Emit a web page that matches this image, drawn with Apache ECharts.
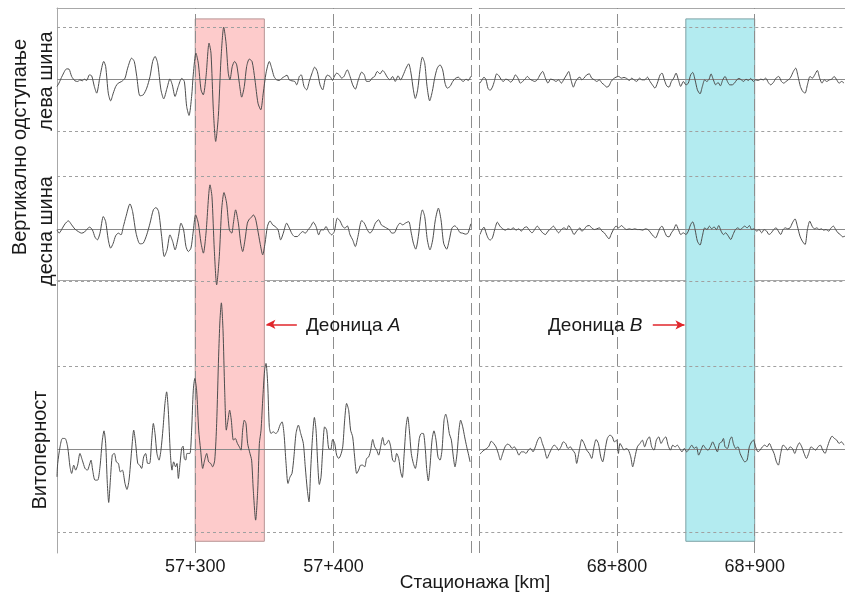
<!DOCTYPE html>
<html><head><meta charset="utf-8">
<script src="https://cdn.jsdelivr.net/npm/echarts@6/dist/echarts.min.js"></script>
<style>html,body{margin:0;padding:0;background:#fff}#c{width:845px;height:597px}</style>
</head><body><div id="c"></div>
<script>
// chainage within km (metres); left panel = km 57, right panel = km 68
const leftKm = 57, rightKm = 68;
const leftRange = [200, 500], rightRange = [700, 965.6];
const leftTickLabels = ['57+300', '57+400'];
const rightTickLabels = ['68+800', '68+900'];
const leftGridLines = [300, 400, 500];
const rightGridLines = [700, 800, 900];
const sectionA = [300, 350];
const sectionB = [850, 900];
const rowNames = ['лева шина', 'десна шина', 'Витоперност'];
const groupName = 'Вертикално одступање';
const xAxisName = 'Стационажа [km]';
// dashed limit lines of each row (same units as the signals)
const rowLimits = [51.85, 52.15, 83.15];

const leftLeva = [[200,-7.3],[201.4,-4],[203.8,3.3],[207,10.3],[208.7,10],[210.6,2.7],[213,-1.7],[215,-2.3],[216.6,-0.7],[218.3,-1.7],[219.7,0],[221.5,-1.3],[223.4,4.3],[225.1,3.3],[227,-7.3],[228.7,-14],[231.1,2.7],[233.8,17.7],[235.2,12.7],[237.1,-14],[238.8,-21.7],[240.7,-14],[242.5,-7.3],[244.3,-4],[246.8,-2.3],[249.2,1],[251.1,11],[254,21],[255.9,17.7],[257.7,2.7],[260,-16.7],[262.4,-15.7],[264.9,-9],[267.3,2.7],[269.2,17.7],[270.9,22.7],[272.8,16],[275.2,-10.7],[277.2,-19.7],[279.6,-9],[281.7,0.3],[283.4,-5.7],[285.4,-17.3],[287.7,-7.3],[290.2,0.7],[292.1,-2.3],[293.8,-27.3],[295.5,-36.3],[297.4,-17.3],[298.6,5],[300.5,26],[302.2,16],[304.2,-10.7],[305.8,-15.7],[307.8,2.7],[310,36],[311.4,26],[313.1,-30.7],[314.8,-62.3],[316.7,-37.3],[318.6,19.3],[320.6,52],[322.3,36],[323.9,6],[325.1,-0.7],[326.8,12.7],[328.5,17.7],[330,14.3],[331.9,-4],[333.6,-18],[335.5,-7.3],[337.2,12.7],[339.1,20],[341.1,17.7],[343.2,-0.7],[345.4,-24],[347.4,-30.7],[349.2,-14],[351.2,6],[353.6,17.7],[355.3,11],[357,2.7],[358.9,-0.7],[360.8,-1.3],[362.8,1],[364.7,2.7],[366.4,4],[368,-0.7],[370,-1.7],[372,-2.3],[373.4,-5.7],[375.3,2.7],[376.7,4.3],[378.7,-7.3],[380.6,-10.7],[382.5,-2.3],[384.5,6],[386.4,12],[388.3,7.7],[390.3,-5.7],[392.2,-10.7],[393.9,-0.7],[395.5,4],[397.5,2.7],[399.4,-1.3],[400.4,2],[402.3,6],[404.2,4.3],[405.9,1],[407.6,2.7],[410,9.3],[412,2.7],[413.9,-5.7],[415.8,-10],[418,-0.7],[420.4,7],[422.3,4.3],[424,-2.3],[425.9,-2.3],[427.9,1],[429.8,2.7],[431.7,7.7],[433.7,5.3],[435.6,8.7],[437.3,6],[438.9,2],[440.9,-0.7],[442.8,2.7],[444.7,-2.3],[446.7,3.3],[448.6,-0.7],[450.5,4.3],[452.5,11],[454.4,15.3],[456.1,6],[457.8,-10.7],[459.2,-19.3],[460.9,-10.7],[462.6,9.3],[464.3,22],[466,16],[467.7,-7.3],[469.6,-21.7],[471.5,-12.3],[473.2,1],[475.1,11],[477.1,14.3],[479,9.3],[480.7,-4],[482.3,-9],[484.3,-7.3],[486.3,-2.3],[488.1,0.7],[490.3,2],[492.3,-0.7],[493.9,-2.3],[495.9,0],[497.5,-1.3],[499.3,2.7]];

const leftDesna = [[200,-1],[201.5,-4.3],[203.9,0.7],[205.8,5],[208.2,8],[210.6,4],[213,-0.3],[215.4,-2.7],[217.8,-4.3],[219.8,-3.3],[221.7,-0.3],[223.6,1.7],[225.6,-1],[227.5,-8.3],[229.2,-11],[231.1,-4.3],[233.5,12.3],[235.2,7.3],[237.1,-11],[238.8,-19.3],[240.7,-14.3],[242.4,-7],[244.4,-4.3],[246.3,-6],[248,2.3],[249.9,12.3],[252.8,25],[254.7,17.3],[257.2,-4.3],[260,-15],[262.4,-14.3],[264.9,-6],[267.3,5.7],[269.7,19],[271.6,21.3],[273.5,17.3],[275.7,-7.7],[277.6,-27.7],[279.6,-21],[281.7,-6],[283.7,-12.7],[285.4,-21],[287.8,-7.7],[289.7,5.7],[291.6,-1],[293.3,-17.7],[295,-22.7],[296.9,-19.3],[298.4,-4.3],[300.3,14],[302.2,5.7],[304.2,-14.3],[305.9,-24.3],[307.8,-4.3],[310.7,44],[312.1,32.3],[313.8,-21],[315.5,-56],[317.4,-27.7],[319.1,19],[320.8,36.3],[322.7,25.7],[324.7,-1],[326.4,-4.3],[327.6,5.7],[329.2,19],[331.2,5.7],[332.9,-14.3],[334.3,-22.7],[336,-11],[337.7,5.7],[339.1,9.7],[340.8,11.7],[342,14],[343.5,10.7],[345.2,-1],[346.9,-14.3],[348.8,-26],[350.5,-14.3],[352.2,2.3],[354.1,8],[356,4],[357.9,2.3],[359.9,-1],[361.8,-11],[363.7,-4.3],[366.1,5.7],[368.1,0.7],[370,-5],[371.9,-7.7],[373.9,-7.7],[375.8,-5],[377.7,-2.7],[379.6,-4.3],[381.6,-1],[383.5,2.3],[385.4,6.7],[387.4,2.3],[389.3,-6],[391,-1],[392.9,-1],[394.6,2.3],[396.5,-2.7],[398.7,-6],[400.6,-2.7],[402.8,10.7],[404.7,8],[406.7,2.3],[408.3,0.7],[410,3],[412,-6],[413.9,-11],[415.8,-17.7],[417.7,-7.7],[420.4,8.3],[422.3,5.7],[424.5,-1],[426.4,-4.3],[428.4,-1],[430.3,5.7],[432.7,9],[434.6,4],[436.5,2.3],[438.5,0.7],[440.4,-1],[442.3,-4.3],[444.3,-3.7],[446.2,2.3],[448.1,5.7],[450.1,4],[452,5.7],[454.4,7.3],[456.3,-4.3],[457.8,-14.3],[459.5,-20.3],[461.4,-7.7],[463.1,12.3],[464.3,19],[466,12.3],[467.9,-11],[469.8,-21],[471.8,-11],[473.7,9],[475.9,20.7],[477.8,9],[479.7,-14.3],[481.9,-20.3],[483.8,-11],[485.7,0.7],[487.7,3],[489.6,0.7],[491.5,-3.7],[493.5,-4.3],[495.4,-5.3],[497.3,-4.3],[499.3,5]];

const leftVito = [[200,-27.7],[200.5,-14.3],[202.2,2.3],[203.9,10.7],[205.8,10.7],[207.7,2.3],[209.4,-17.7],[210.6,-24.3],[212.1,-16],[213.5,-21],[214.9,-16],[216.6,-4.3],[218.3,-11],[220.3,-19.3],[222,-21],[223.4,-16],[224.6,-11],[225.8,-21],[227.5,-31],[229.4,-31],[231.1,-17.7],[232.8,9],[234,18.3],[235.2,5.7],[236.4,-34.3],[237.4,-53.3],[238.6,-31],[240,-6],[241.5,-4.3],[242.9,-12.7],[244.4,-14.3],[245.8,-22.7],[247.3,-21],[249.2,-34.3],[250.6,-40.3],[252.1,-31],[254,-1],[255.5,19],[256.9,5.7],[258.4,-14.3],[259.8,-16],[261.2,-19.3],[262.7,-7.7],[264.1,-4.3],[265.6,-14.3],[267,-14.3],[268.5,9],[269.7,25.7],[270.9,15.7],[272.3,-4.3],[273.8,-11],[275.2,-1],[276.7,20.7],[278.1,45.7],[279.3,57.3],[280.5,39],[282,-4.3],[283.2,-21],[284.4,-12.7],[285.8,-17.7],[286.8,-14.3],[287.8,-29.3],[289,-14.3],[290.2,0.7],[291.2,3],[292.1,-9.3],[293.1,-11],[294,-4.3],[295,-4.3],[296.2,-4.3],[297.4,19],[298.6,59],[299.7,70.7],[301,59],[302.5,19],[303.9,-1],[305.4,-19.3],[306.8,-11],[308.3,-4.3],[309.7,-12.7],[311.2,-14.3],[312.6,-17.7],[314.1,-11],[315.5,25.7],[316.9,92.3],[317.9,129],[318.9,146.3],[320.1,119],[321.3,59],[322.5,19],[323.7,29],[324.9,39],[326.1,29],[327.6,9],[329,10.7],[330.5,5.7],[331.9,2.3],[333.1,-1],[334.3,19],[335.5,29],[336.7,25.7],[337.9,5.7],[339.6,-4.3],[340.8,-11],[342,-41],[343.7,-71],[345.2,-41],[346.4,5.7],[347.6,19],[348.8,49],[350.2,79],[351.2,85.7],[352.4,65.7],[353.6,22.3],[354.8,15.7],[356.5,17.3],[358.2,15.7],[359.6,17.3],[361.3,24],[362.8,27.3],[364.2,15.7],[365.7,-14.3],[367.1,-34.3],[368.6,-27.7],[370,-24.3],[371.4,-7.7],[372.9,15.7],[374.6,24],[376.3,15.7],[378.2,5.7],[379.6,-17.7],[381.1,-41],[382.3,-52.7],[383.5,-21],[384.7,9],[386.2,31.7],[387.4,19],[388.6,-14.3],[389.8,-35.3],[391,-27.7],[392.2,-1],[393.6,22.3],[395.1,19],[396.5,0.7],[398,-0.3],[399.4,9.7],[400.9,5.7],[402.3,-6],[403.8,-9.3],[405.2,-6],[406.7,2.3],[408.1,29],[409.5,45.7],[411,39],[412.4,19],[413.9,12.3],[415.3,-7.7],[416.8,-24.3],[418.2,-21],[419.7,-16],[421.1,-16],[422.6,-17.7],[424,-9.3],[425.5,-7.7],[426.9,-1],[428.4,9.7],[429.8,2.3],[431.3,-1],[432.7,-6],[434.1,2.3],[435.6,11.7],[437,4],[438.5,5.7],[439.9,9],[441.4,2.3],[442.8,-11],[444.3,-12.7],[445.7,-4.3],[447.2,-9.3],[448.6,-22.7],[449.8,-28.3],[451,-7.7],[452.5,22.3],[453.7,32.3],[454.9,19],[456.3,-4.3],[457.8,-14.3],[459.2,-19.3],[460.7,-7.7],[462.1,10.7],[463.6,15.7],[465,15.7],[466.5,-1],[467.4,-19.3],[468.6,-31.7],[469.8,-17.7],[471.3,9],[472.7,18.3],[474.2,9],[475.6,-7.7],[477.1,-11],[478.5,-1],[480,29],[481.2,35],[482.4,29],[483.8,15.7],[485.3,9],[486.7,-7.7],[487.9,-17.7],[489.4,-4.3],[490.8,19],[492,29],[493.5,22.3],[494.9,12.3],[496.4,2.3],[497.8,-6],[498.8,-12.7]];

const rightLeva = [[700.5,-4],[702,-0.7],[703.4,2],[704.9,-0.7],[706.3,-9],[707.8,-11.3],[709.5,-8],[710.9,-2.3],[712.6,5.3],[714.3,3.3],[716,-0.7],[717.5,-2.3],[719.2,0],[720.8,-0.7],[722.8,-3],[724.7,0],[726.2,4.3],[728.1,1],[729.8,-4],[731.5,-2.3],[733.2,0],[734.9,2.7],[736.8,0],[738.5,-1.3],[740.2,-2.3],[742.1,-0.7],[744.1,4.3],[746,7.7],[748,1],[749.9,-4],[751.8,0],[753.8,-0.7],[755.7,-2.3],[757.6,-0.7],[759.6,-4],[761.5,0],[763.4,4.3],[764.9,7.7],[766.6,-0.7],[768.3,-8],[770,-2.3],[771.7,1],[773.1,2],[774.4,-0.7],[776,1],[778,4.3],[779.9,5.3],[781.6,1],[783.6,-0.7],[785.3,-2.3],[787.2,-0.7],[789.1,-4],[790.8,-5.7],[792.5,-8],[794.2,-6.7],[795.7,-2.3],[797.4,0.3],[799.3,2],[801.2,2.7],[803.2,1],[805.1,1.7],[807,0.7],[809,-1.3],[810.7,1],[812.4,-0.7],[814.3,-2.3],[816.3,1],[818.2,-0.7],[820.1,-0.7],[822.1,2],[824,-2.3],[825.7,-5.7],[827.6,-9],[829.3,-4],[831.3,4.3],[832.7,6],[834.4,-0.7],[836.1,-6.7],[837.8,-8],[839.5,-2.3],[841.2,1],[842.9,6],[844.6,-0.7],[846.3,-7.3],[848.2,-2.3],[850.1,-5.7],[851.8,-4],[853.5,4.3],[855,6.7],[856.7,-0.7],[858.4,-10.7],[860.3,-14.7],[862,-7.3],[863.7,-0.7],[865.2,-2.3],[866.9,0],[868.3,5.3],[870,-0.7],[871.7,-5.7],[873.4,-3.3],[875.1,-6.7],[876.8,-0.7],[878.5,2.7],[880.2,-2.3],[881.9,-5.7],[883.6,-5.7],[885.3,-4],[887,-0.7],[888.6,0.7],[890.3,-0.7],[892,-2.3],[893.7,0],[895.4,-1.3],[897.1,0.7],[899.1,-2.3],[900.7,-0.7],[902.7,-1.3],[904.4,0],[906.3,-0.7],[908,1],[909.9,-3.3],[911.6,-5.7],[913.6,-3.3],[915.5,1],[917.5,2.7],[919.4,-2.3],[921.1,-4],[922.8,-2.3],[924.5,-0.7],[926.2,2],[928.1,7.7],[929.8,11],[931.5,2.7],[933.2,-7.3],[934.9,-12.3],[936.6,-14],[938.3,-5.7],[940.2,2.7],[941.9,1],[943.6,4.3],[945.5,8.7],[947.2,1],[948.9,-4],[950.6,-0.7],[952.3,-2.3],[954.3,-0.7],[956,0],[957.7,2.7],[959.6,-0.7],[961.3,-4],[963.2,-2.3],[964.9,-4]];

const rightDesna = [[700.5,-5.7],[702,-0.7],[703.4,1.7],[704.9,-4],[706.3,-9],[707.8,-11.3],[709.5,-9],[711.2,-0.7],[713.1,6.7],[715,2.7],[717,0],[718.9,-1.3],[720.8,0],[722.8,-0.7],[724.7,1],[726.7,-1.3],[728.6,0],[730.5,-2.3],[732.5,1],[734.4,2],[736.3,-1.3],[738.3,-4],[740.2,-0.7],[742.1,2.7],[744.1,-0.7],[746,-4],[748,-5.7],[749.9,-2.3],[751.8,0],[753.8,2.7],[755.7,-0.7],[757.6,-4],[759.6,-0.7],[761.5,1],[763.4,-0.7],[764.9,3.3],[766.9,-0.7],[768.8,-5.7],[770.7,-2.3],[773.1,1],[774.4,-2.3],[776,-0.7],[778,2.7],[779.9,3.3],[781.6,1],[783.6,-0.7],[785.3,0],[787.2,1],[789.1,-2.3],[790.8,-4],[792.5,-7.3],[794.2,-10],[795.7,-5.7],[797.4,-0.7],[799.3,2.7],[801.2,1],[803.2,3.3],[805.1,1],[807,-0.7],[809,0],[810.9,-0.7],[812.9,0],[814.8,-0.7],[816.7,-0.7],[818.7,-1.3],[820.6,0],[822.5,-0.7],[824.5,-4],[826.4,-7.3],[828.1,-9],[829.8,-4],[831.3,1],[832.7,2.7],[834.4,-2.3],[836.1,-7.3],[837.8,-8],[839.5,-4],[841.2,-0.7],[842.9,4.3],[844.6,-0.7],[846.3,-5.7],[848.2,-4],[850.1,-5.7],[851.8,-2.3],[853.5,4.3],[855,7],[856.7,-0.7],[858.4,-12.3],[860.3,-16.3],[862,-7.3],[863.7,1],[865.4,-0.7],[867.1,2.7],[868.8,0],[870.5,2],[872.2,-0.7],[873.9,3.3],[875.6,-2.3],[877.3,-5.7],[878.9,-4],[880.9,-7.3],[882.6,-10.7],[884.3,-5.7],[886,-0.7],[887.7,1],[889.4,-0.7],[891.1,1],[892.8,2.7],[894.5,1],[896.2,3.3],[897.8,-0.7],[899.5,0],[901.5,-2.3],[903.2,-0.7],[905.1,-4],[906.8,-0.7],[908.7,-2.3],[910.4,-5.7],[912.1,-4],[913.8,-0.7],[915.5,1],[917.2,-2.3],[918.9,-5.7],[920.6,-0.7],[922.3,1],[924,0],[925.7,1],[927.4,6],[929.3,10],[931,2.7],[932.9,-7.3],[934.6,-12.3],[936.6,-15.7],[938.3,-0.7],[940,7.7],[941.7,2.7],[943.4,0],[945.1,1],[946.8,-0.7],[948.5,0],[950.1,-1.3],[951.8,-0.7],[953.8,-2.3],[955.5,1],[957.2,2.7],[958.8,-0.7],[960.5,-4],[962.2,-5.7],[963.9,-8],[965.6,-7.3]];

const rightVito = [[700.5,-5],[702,-2.7],[703.4,-1],[705.4,0.7],[707,3],[708.7,8],[710.4,5.7],[712.1,2.3],[713.8,-4.3],[715.3,-11],[717,-4.3],[718.7,2.3],[720.4,5],[722.1,4],[723.8,0.7],[725.4,2.3],[727.1,-1],[728.8,-6],[730.5,-2.7],[732.2,-2.7],[733.9,-4.3],[735.6,-1],[737.3,0.7],[739,-2.7],[740.7,2.3],[742.4,9],[744.1,12.3],[745.8,5.7],[747.5,-1],[749.2,-9.3],[750.9,-4.3],[752.6,0.7],[754.3,4],[756,2.3],[757.6,-1],[759.3,2.3],[761,7.3],[762.7,5.7],[764.4,0.7],[766.1,2.3],[767.8,-1],[769.5,-4.3],[770.7,-14.3],[772.2,-4.3],[773.1,2.3],[774.4,9.7],[776.1,5.7],[778,-1],[779.9,-4.3],[781.6,-9.3],[783.3,2.3],[784.8,9.7],[786.5,5.7],[788.2,-7.7],[789.6,-12.7],[791.3,-1],[793,10.7],[794.9,14],[796.6,12.3],[798.1,7.3],[799.8,9],[801,-4.3],[802.2,5.7],[803.7,2.3],[805.1,-1],[806.6,0.7],[808.3,-1],[810,-7.7],[811.4,-17.7],[813.1,-7.7],[814.8,2.3],[816.7,5.7],[818.4,9],[820.1,2.3],[821.8,9],[823.5,12.3],[825.2,2.3],[826.9,-1],[828.6,9],[830.3,12.3],[832,5.7],[833.7,9.7],[835.4,12.3],[837.1,4],[838.8,-1],[840.5,4],[842.2,2.3],[843.8,4],[845.5,0.7],[847.2,-2.7],[848.9,0.7],[850.6,-2.7],[852.6,0.7],[854.3,4],[856,0.7],[857.7,2.3],[859.3,-6],[861,-1],[862.7,4],[864.4,0.7],[866.1,-1],[867.8,2.3],[869.5,7.3],[871.2,2.3],[872.9,-2.7],[874.4,5.7],[876.1,7.3],[877.3,10.7],[878.5,2.3],[880.2,0.7],[882.1,9.7],[883.3,12.3],[884.5,5.7],[886.2,0.7],[887.9,2.3],[889.4,-4.3],[891.1,-9.3],[892.8,-12.7],[894.5,-11],[896.1,2.3],[897.8,7.3],[899.1,9],[900.7,2.3],[902.4,-2.7],[903.9,-1],[905.6,2.3],[907.3,4],[909,2.3],[910.7,5.7],[912.4,0.7],[914.1,-4.3],[915.8,-12.7],[917.2,-16],[918.9,-4.3],[920.6,4],[922.3,2.3],[924,-1],[925.7,2.3],[927.4,0.7],[929.1,-4.3],[930.8,2.3],[932.5,6.3],[934.2,2.3],[935.9,-4.3],[937.6,-9.3],[939.2,-4.3],[940.9,2.3],[942.6,0.7],[944.3,-1],[946,2.3],[947.7,4],[949.4,-1],[951.1,-4.3],[952.8,2.3],[954.5,9],[956.2,13],[957.9,10.7],[959.6,9],[961.3,5.7],[963,7.3],[964.9,4]];

const FONT = '"Liberation Sans", Arial, sans-serif';
const TXT = '#1a1a1a';
const chart = echarts.init(document.getElementById('c'), null, {renderer: 'canvas'});

const frameTop = 8, frameHeight = 545;
const panels = [{left: 57, width: 414.7}, {left: 479.3, width: 365.7}];
const rows = [{top: 27.3, height: 103.7}, {top: 176.7, height: 104.3}, {top: 366, height: 166.3}];

function fmt(km, labels) {
  return function (v) {
    const s = km + '+' + String(Math.round(v)).padStart(3, '0');
    return labels.indexOf(s) >= 0 ? s : '';
  };
}

const grid = [], xAxis = [], yAxis = [], series = [];
const ranges = [leftRange, rightRange];
const kms = [leftKm, rightKm];
const labelSets = [leftTickLabels, rightTickLabels];
const gridLineSets = [leftGridLines, rightGridLines];

// frame grids (0,1)
panels.forEach((p, i) => {
  grid.push({left: p.left, width: p.width, top: frameTop, height: frameHeight, containLabel: false, outerBoundsMode: 'none'});
  xAxis.push({
    type: 'value', gridIndex: i, min: ranges[i][0], max: ranges[i][1], interval: 100, position: 'bottom',
    axisLine: {show: true, lineStyle: {color: '#a8a8a8', width: 1}},
    axisTick: {show: false},
    axisLabel: {formatter: fmt(kms[i], labelSets[i]), color: TXT, fontSize: 18, fontFamily: FONT, margin: 5, showMinLabel: true, showMaxLabel: true},
    splitLine: {show: false}
  });
  xAxis.push({
    type: 'value', gridIndex: i, min: ranges[i][0], max: ranges[i][1], position: 'top',
    axisLine: {show: true, lineStyle: {color: '#a8a8a8', width: 1}},
    axisTick: {show: false}, axisLabel: {show: false}, splitLine: {show: false}
  });
  yAxis.push({
    type: 'value', gridIndex: i, min: -1, max: 1,
    axisLine: {show: i === 0, lineStyle: {color: '#a8a8a8', width: 1}},
    axisTick: {show: false}, axisLabel: {show: false}, splitLine: {show: false}
  });
  // vertical dashed grid lines every 100 m
  series.push({
    type: 'line', xAxisIndex: i * 2, yAxisIndex: i, data: [], z: 0, silent: true, animation: false,
    markLine: {silent: true, animation: false, symbol: 'none', label: {show: false},
      lineStyle: {color: '#8e8e8e', width: 1, type: [12, 5]},
      data: gridLineSets[i].map(v => ({xAxis: v}))}
  });
});

// row grids
const rowData = [[leftLeva, leftDesna, leftVito], [rightLeva, rightDesna, rightVito]];
panels.forEach((p, i) => {
  rows.forEach((r, j) => {
    const gi = grid.length;
    grid.push({left: p.left, width: p.width, top: r.top, height: r.height, containLabel: false, outerBoundsMode: 'none'});
    xAxis.push({type: 'value', gridIndex: gi, min: ranges[i][0], max: ranges[i][1], show: false});
    yAxis.push({type: 'value', gridIndex: gi, min: -rowLimits[j], max: rowLimits[j], show: false});
    series.push({
      type: 'line', xAxisIndex: xAxis.length - 1, yAxisIndex: yAxis.length - 1,
      data: rowData[i][j], showSymbol: false, symbol: 'none', clip: false, smooth: 0.25,
      lineStyle: {color: '#4d4d4d', width: 1}, z: 5, silent: true, animation: false,
      markLine: {
        silent: true, symbol: 'none', animation: false, label: {show: false},
        data: [
          {yAxis: 0, lineStyle: {color: '#8a8a8a', type: 'solid', width: 1}},
          {yAxis: rowLimits[j], lineStyle: {color: '#a0a0a0', type: [3, 3], width: 1}},
          {yAxis: -rowLimits[j], lineStyle: {color: '#a0a0a0', type: [3, 3], width: 1}}
        ]
      }
    });
  });
});

// highlighted sections and arrows in frame grids
series.push({
  type: 'line', xAxisIndex: 0, yAxisIndex: 0, data: [], z: 1, silent: true, animation: false,
  markArea: {silent: true, animation: false,
    itemStyle: {color: '#fdcbcb', borderColor: '#b89595', borderWidth: 1},
    data: [[{xAxis: sectionA[0], yAxis: 0.96}, {xAxis: sectionA[1], yAxis: -0.957}]]},
  markLine: {silent: true, animation: false, symbol: ['none', 'arrow'], symbolSize: [7, 9], label: {show: false},
    lineStyle: {color: '#e0262b', width: 1.5, type: 'solid'},
    data: [[{coord: [373.5, -0.161]}, {coord: [sectionA[1] + 1.5, -0.161]}]]}
});
series.push({
  type: 'line', xAxisIndex: 2, yAxisIndex: 1, data: [], z: 1, silent: true, animation: false,
  markArea: {silent: true, animation: false,
    itemStyle: {color: '#b3ebf0', borderColor: '#7ea3a6', borderWidth: 1},
    data: [[{xAxis: sectionB[0], yAxis: 0.96}, {xAxis: sectionB[1], yAxis: -0.957}]]},
  markLine: {silent: true, animation: false, symbol: ['none', 'arrow'], symbolSize: [7, 9], label: {show: false},
    lineStyle: {color: '#e0262b', width: 1.5, type: 'solid'},
    data: [[{coord: [826, -0.163]}, {coord: [sectionB[0] - 1, -0.163]}]]}
});

const txt = (x, y, text, rot, size) => ({
  type: 'text', x: x, y: y, rotation: rot || 0, silent: true, z: 10,
  style: {text: text, fill: TXT, font: (size || 18) + 'px ' + FONT, align: 'center', verticalAlign: 'middle'}
});
const richLabel = (x, y, letter) => ({
  type: 'text', x: x, y: y, silent: true, z: 10,
  style: {text: '{n|Деоница }{i|' + letter + '}', align: 'left', verticalAlign: 'middle',
    rich: {n: {fontSize: 19, fontFamily: FONT, fill: TXT, color: TXT},
           i: {fontSize: 19, fontFamily: FONT, fontStyle: 'italic', fill: TXT, color: TXT}}}
});

const graphic = [
  txt(20, 147, groupName, Math.PI / 2, 20),
  txt(46, 81, rowNames[0], Math.PI / 2, 20),
  txt(46, 231, rowNames[1], Math.PI / 2, 20),
  txt(40, 450, rowNames[2], Math.PI / 2, 20),
  txt(475, 583, xAxisName, 0, 19),
  richLabel(306, 326, 'A'),
  richLabel(548, 326, 'B')
];

chart.setOption({
  animation: false,
  backgroundColor: '#fff',
  grid: grid, xAxis: xAxis, yAxis: yAxis, series: series, graphic: graphic
});
</script>
</body></html>
